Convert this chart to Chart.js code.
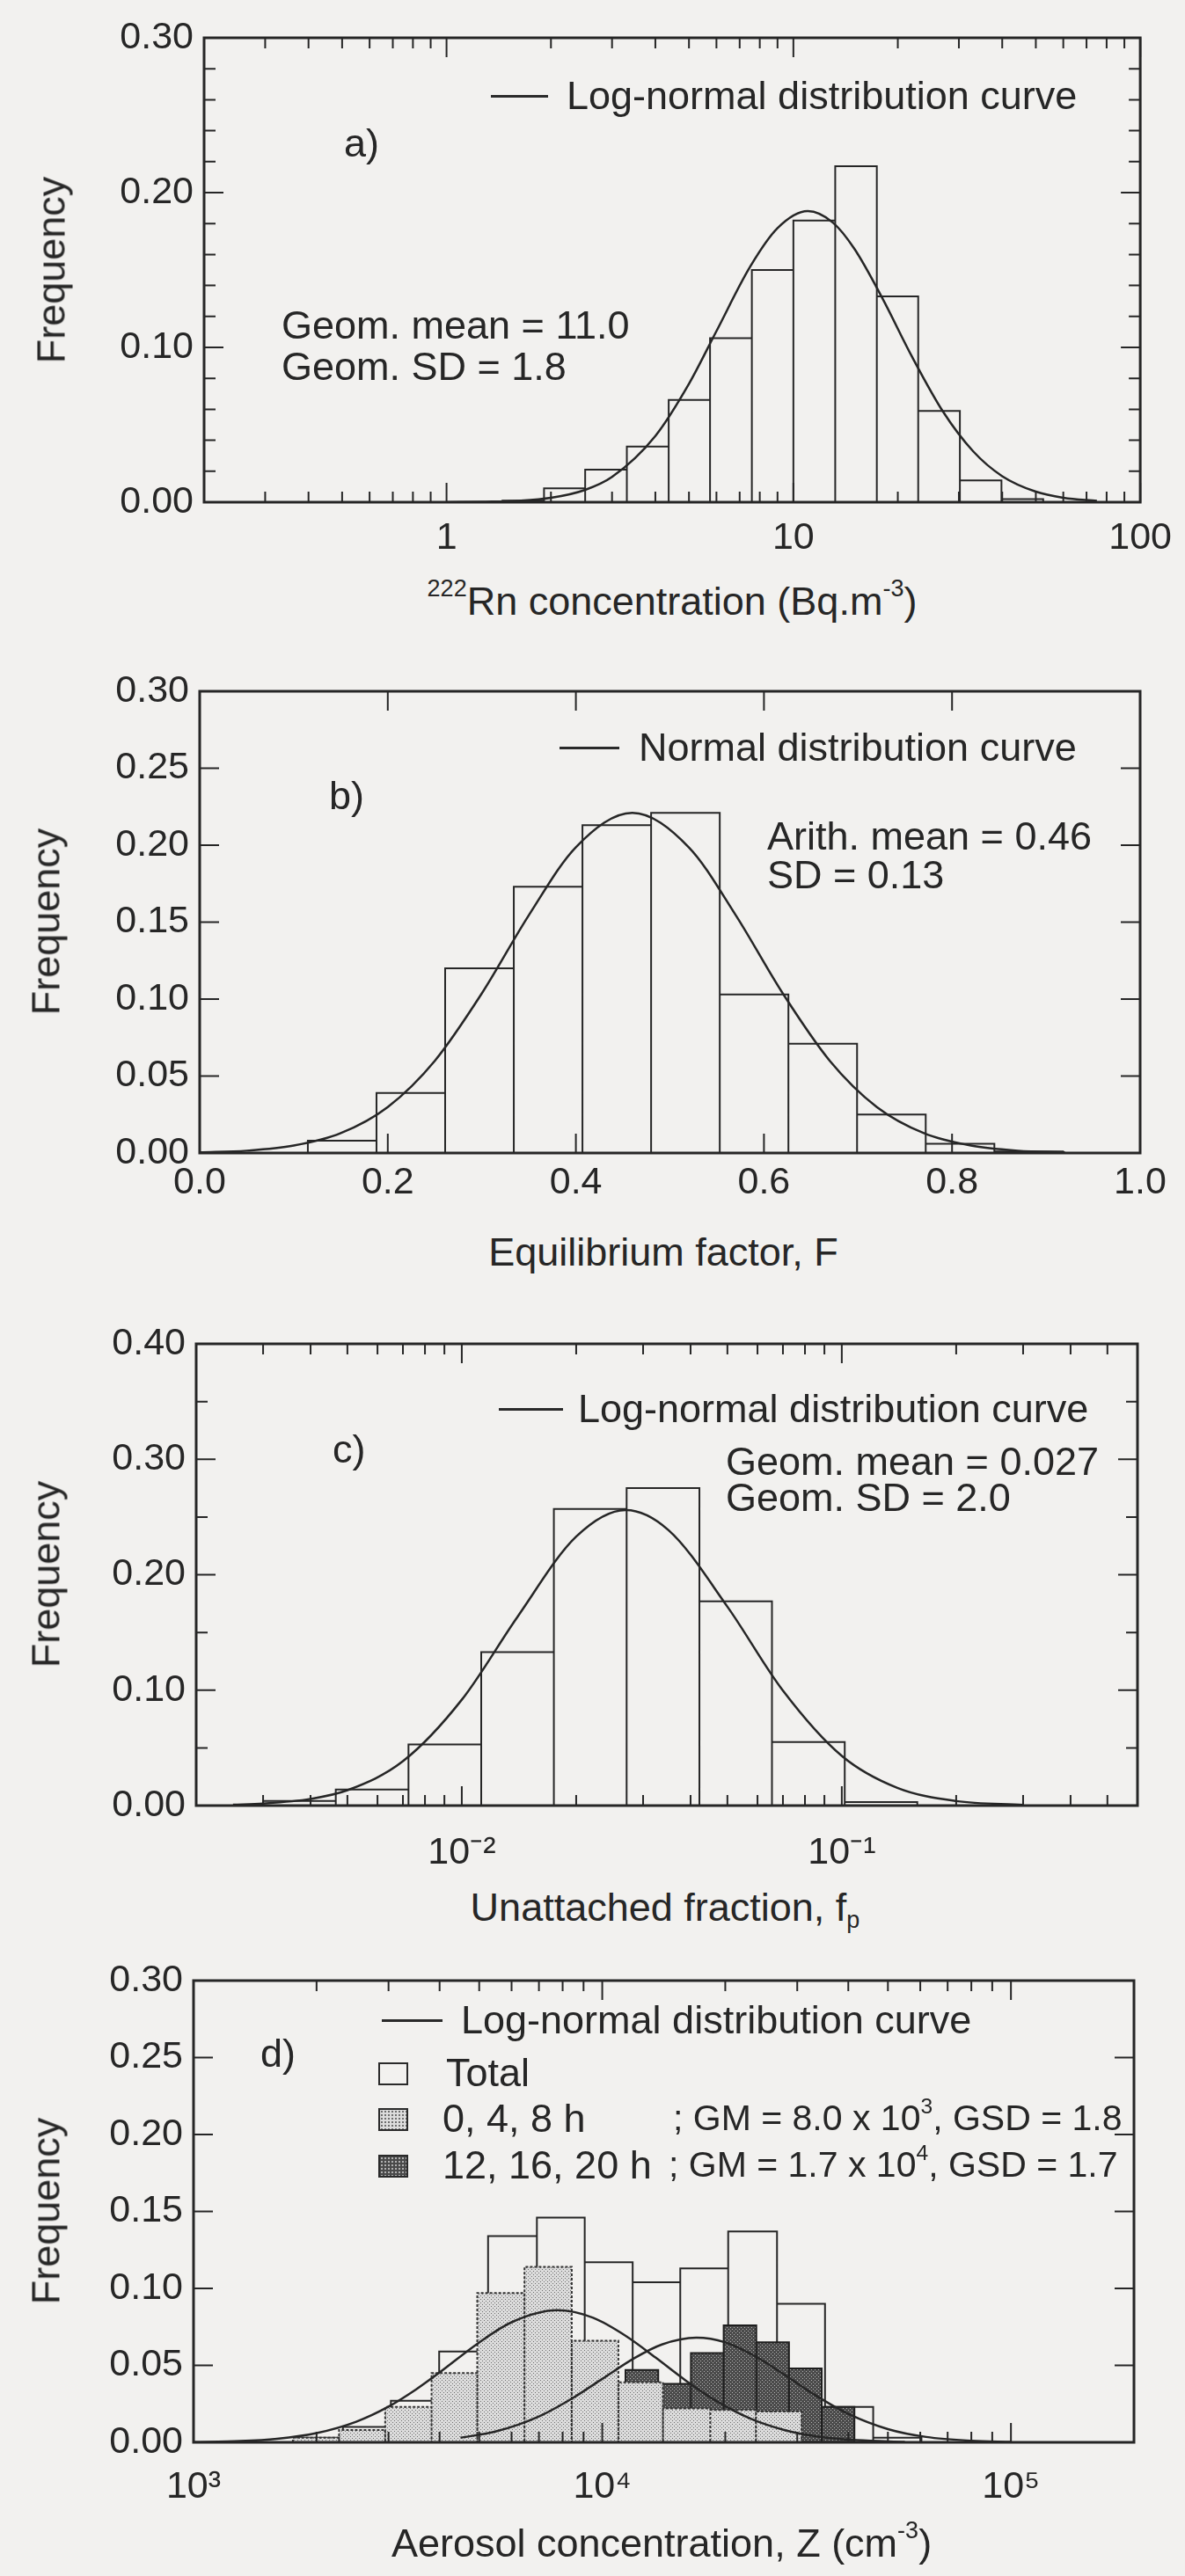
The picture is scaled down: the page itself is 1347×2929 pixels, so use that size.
<!DOCTYPE html>
<html>
<head>
<meta charset="utf-8">
<script src="https://cdn.jsdelivr.net/npm/chart.js@4.4.1/dist/chart.umd.min.js"></script>
<style>
  html, body { margin: 0; padding: 0; }
  body { width: 1347px; height: 2929px; position: relative; overflow: hidden; background: #f2f1ef;
         font-family: "Liberation Sans", Arial, Helvetica, sans-serif; color: #262626; }
  .panel { position: absolute; left: 0; width: 1347px; }
  .txt { position: absolute; white-space: nowrap; line-height: 1; font-size: 45px; }
  .txt sup { font-size: 0.6em; position: relative; top: -0.75em; vertical-align: baseline; }
  .txt sub { font-size: 0.6em; position: relative; top: 0.3em; vertical-align: baseline; }
  .ylab { transform: translate(-50%, -50%) rotate(-90deg); }
  .ctr { transform: translateX(-50%); }
  .key { position: absolute; height: 3px; background: #2a2a2a; }
  .sw { position: absolute; width: 34px; height: 26px; border: 2px solid #2a2a2a; box-sizing: border-box; }
  .light { background-color: #dcdcdc; background-image: radial-gradient(#6f6f6f 30%, transparent 45%); background-size: 4px 4px; }
  .dark { background-color: #4a4a4a; background-image: radial-gradient(#b0b0b0 30%, transparent 45%); background-size: 4px 4px; }
</style>
</head>
<body>
<script>
    // a) 222Rn concentration, log bins
    const aEdges = [1.45, 1.91, 2.51, 3.31, 4.37, 5.75, 7.59, 10.0, 13.2, 17.4, 22.9, 30.2, 39.8, 52.5];
    const aFreq = [0.001, 0.009, 0.021, 0.036, 0.066, 0.106, 0.150, 0.182, 0.217, 0.133, 0.059, 0.014, 0.002];
    const aCurveX = [1.0, 1.3, 1.6, 2.0, 2.5, 3.0, 4.0, 5.0, 6.0, 7.5, 9.0, 11.0, 13.0, 15.0, 18.0, 22.0, 27.0, 33.0, 40.0, 50.0, 60.0, 75.0];
    const aCurveY = [0.0000, 0.0003, 0.0009, 0.0028, 0.0078, 0.0163, 0.0428, 0.0765, 0.1105, 0.152, 0.177, 0.188, 0.1806, 0.1636, 0.1323, 0.0938, 0.0585, 0.0328, 0.0168, 0.0068, 0.0029, 0.0009];
    const aXTicks = [1, 10, 100];
    const aXLabels = ['1', '10', '100'];
    const aXMinor = [0.3, 0.4, 0.5, 0.6, 0.7, 0.8, 0.9, 2, 3, 4, 5, 6, 7, 8, 9, 20, 30, 40, 50, 60, 70, 80, 90];
    const aYTicks = [0, 0.1, 0.2, 0.3];
    const aYMinor = [0.02, 0.04, 0.06, 0.08, 0.12, 0.14, 0.16, 0.18, 0.22, 0.24, 0.26, 0.28];

    // b) equilibrium factor, linear bins
    const bEdges = [0.115, 0.188, 0.261, 0.334, 0.407, 0.480, 0.553, 0.626, 0.699, 0.772, 0.845, 0.918];
    const bFreq = [0.008, 0.039, 0.120, 0.173, 0.213, 0.221, 0.103, 0.071, 0.025, 0.006, 0.001];
    const bCurveX = [0.0, 0.05, 0.1, 0.15, 0.2, 0.25, 0.3, 0.35, 0.4, 0.46, 0.52, 0.57, 0.62, 0.67, 0.72, 0.77, 0.82, 0.87, 0.92];
    const bCurveY = [0.0004, 0.0015, 0.0048, 0.0129, 0.0299, 0.0599, 0.1037, 0.1545, 0.1987, 0.221, 0.1987, 0.1545, 0.1037, 0.0599, 0.0299, 0.0129, 0.0048, 0.0015, 0.0004];
    const bXTicks = [0, 0.2, 0.4, 0.6, 0.8, 1.0];
    const bXLabels = ['0.0', '0.2', '0.4', '0.6', '0.8', '1.0'];
    const bYTicks = [0, 0.05, 0.10, 0.15, 0.20, 0.25, 0.30];

    // c) unattached fraction, log bins
    const cEdges = [0.0030, 0.00466, 0.00724, 0.01125, 0.01747, 0.02715, 0.0422, 0.0655, 0.1018, 0.158];
    const cFreq = [0.004, 0.014, 0.053, 0.133, 0.257, 0.275, 0.177, 0.055, 0.003];
    const cCurveX = [0.0025, 0.003, 0.004, 0.005, 0.007, 0.01, 0.014, 0.02, 0.027, 0.035, 0.05, 0.07, 0.1, 0.14, 0.2, 0.3];
    const cCurveY = [0.0007, 0.0017, 0.0058, 0.0133, 0.0384, 0.0917, 0.1633, 0.233, 0.256, 0.2386, 0.1723, 0.0996, 0.043, 0.0153, 0.0039, 0.0006];
    const cXTicks = [0.01, 0.1];
    const cXLabels = ['10\u207B\u00B2', '10\u207B\u00B9'];
    const cXMinor = [0.003, 0.004, 0.005, 0.006, 0.007, 0.008, 0.009, 0.02, 0.03, 0.04, 0.05, 0.06, 0.07, 0.08, 0.09, 0.2, 0.3, 0.4, 0.5];
    const cYTicks = [0, 0.1, 0.2, 0.3, 0.4];
    const cYMinor = [0.05, 0.15, 0.25, 0.35];

    // d) aerosol concentration: total, 0-4-8 h, 12-16-20 h
    const dTotEdges = [1766, 2320, 3040, 3990, 5256, 6920, 9060, 11870, 15520, 20330, 26770, 35080, 46020, 60400];
    const dTotFreq = [0.003, 0.010, 0.027, 0.059, 0.134, 0.146, 0.117, 0.104, 0.113, 0.137, 0.090, 0.023, 0.003];
    const dDayEdges = [1750, 2270, 2944, 3823, 4946, 6453, 8421, 10950, 14080, 18380, 23770, 30740];
    const dDayFreq = [0.003, 0.008, 0.023, 0.045, 0.097, 0.114, 0.066, 0.039, 0.022, 0.021, 0.020];
    const dEveEdges = [11400, 13710, 16480, 19820, 23820, 28640, 34430, 41400];
    const dEveFreq = [0.047, 0.038, 0.058, 0.076, 0.065, 0.048, 0.023];
    const dCurve1X = [1000, 1300, 1600, 2000, 2500, 3000, 3500, 4000, 5000, 6000, 7760, 9500, 11500, 13500, 16000, 19000, 23000, 28000, 34000, 42000, 55000];
    const dCurve1Y = [0.0002, 0.0008, 0.0023, 0.006, 0.0134, 0.0232, 0.0343, 0.0454, 0.0649, 0.078, 0.0858, 0.0809, 0.0686, 0.0551, 0.0402, 0.0269, 0.0155, 0.0079, 0.0036, 0.0014, 0.0003];
    const dCurve2X = [4500, 5500, 7000, 8500, 10000, 12000, 14000, 17000, 20000, 24000, 28000, 33000, 40000, 50000, 62000, 80000, 100000];
    const dCurve2Y = [0.003, 0.0071, 0.0168, 0.029, 0.0412, 0.0548, 0.0636, 0.068, 0.0649, 0.055, 0.0437, 0.0311, 0.0185, 0.0086, 0.0035, 0.001, 0.0003];
    const dXTicks = [1e3, 1e4, 1e5];
    const dXLabels = ['10\u00B3', '10\u2074', '10\u2075'];
    const dXMinor = [2e3, 3e3, 4e3, 5e3, 6e3, 7e3, 8e3, 9e3, 2e4, 3e4, 4e4, 5e4, 6e4, 7e4, 8e4, 9e4];
    const dYTicks = [0, 0.05, 0.10, 0.15, 0.20, 0.25, 0.30];

    const INK = '#262626';
    const TICK_FS = 43;
    Chart.defaults.font.family = '"Liberation Sans", Arial, Helvetica, sans-serif';
    Chart.defaults.color = INK;

    function histPoints(edges, freq) {
        const pts = [];
        freq.forEach((f, i) => {
            pts.push({x: edges[i], y: 0}, {x: edges[i], y: f}, {x: edges[i + 1], y: f}, {x: edges[i + 1], y: 0});
        });
        return pts;
    }

    function curvePoints(xs, ys) {
        return xs.map((x, i) => ({x: x, y: ys[i]}));
    }

    function stipple(base, dot) {
        const c = document.createElement('canvas');
        c.width = 4; c.height = 4;
        const g = c.getContext('2d');
        g.fillStyle = base; g.fillRect(0, 0, 4, 4);
        g.fillStyle = dot; g.fillRect(0, 0, 1, 1); g.fillRect(2, 2, 1, 1);
        return g.createPattern(c, 'repeat');
    }

    function curveSet(xs, ys) {
        return {data: curvePoints(xs, ys), showLine: true, borderColor: INK, borderWidth: 2.5,
                pointRadius: 0, fill: false, cubicInterpolationMode: 'monotone'};
    }

    function histSet(edges, freq, extra) {
        return Object.assign({data: histPoints(edges, freq), showLine: true, borderColor: INK, borderWidth: 2,
                pointRadius: 0, fill: false, tension: 0, borderJoinStyle: 'miter'}, extra || {});
    }

    // box + inward tick marks on all four sides
    function framePlugin(f) {
        return {
            id: 'frame',
            afterDatasetsDraw(chart) {
                const {ctx, chartArea: a, scales: {x, y}} = chart;
                ctx.save();
                ctx.strokeStyle = INK;
                ctx.lineWidth = 3;
                ctx.strokeRect(a.left, a.top, a.right - a.left, a.bottom - a.top);
                ctx.lineWidth = 2;
                ctx.beginPath();
                [[f.xMajor, 22], [f.xMinor || [], 12]].forEach(([vals, len]) => vals.forEach(v => {
                    const px = x.getPixelForValue(v);
                    ctx.moveTo(px, a.bottom); ctx.lineTo(px, a.bottom - len);
                    ctx.moveTo(px, a.top); ctx.lineTo(px, a.top + len);
                }));
                [[f.yMajor, 22], [f.yMinor || [], 13]].forEach(([vals, len]) => vals.forEach(v => {
                    const py = y.getPixelForValue(v);
                    ctx.moveTo(a.left, py); ctx.lineTo(a.left + len, py);
                    ctx.moveTo(a.right, py); ctx.lineTo(a.right - len, py);
                }));
                ctx.stroke();
                ctx.restore();
            }
        };
    }

    function makePanel(p) {
        const wrap = document.createElement('div');
        wrap.className = 'panel';
        wrap.style.top = p.top + 'px';
        wrap.style.height = p.height + 'px';
        const cv = document.createElement('canvas');
        wrap.appendChild(cv);
        document.body.appendChild(wrap);
        return new Chart(cv, {
            type: 'scatter',
            data: {datasets: p.datasets},
            options: {
                responsive: true,
                maintainAspectRatio: false,
                animation: false,
                events: [],
                layout: {padding: {left: 0, right: 1347 - p.box.r, top: p.box.t - p.top, bottom: 0}},
                plugins: {legend: {display: false}, tooltip: {enabled: false}},
                scales: {
                    x: {
                        type: p.xType, min: p.xMin, max: p.xMax,
                        grid: {display: false, drawTicks: false}, border: {display: false},
                        ticks: {autoSkip: false, maxRotation: 0, minRotation: 0, padding: p.xPad,
                                color: INK, font: {size: TICK_FS}, callback: (v, i) => p.xLabels[i]},
                        afterBuildTicks: s => { s.ticks = p.xTicks.map(v => ({value: v})); },
                        afterFit: s => { s.height = p.top + p.height - p.box.b; }
                    },
                    y: {
                        type: 'linear', min: 0, max: p.yMax,
                        grid: {display: false, drawTicks: false}, border: {display: false},
                        ticks: {padding: 12, color: INK, font: {size: TICK_FS}, callback: v => v.toFixed(2)},
                        afterBuildTicks: s => { s.ticks = p.yTicks.map(v => ({value: v})); },
                        afterFit: s => { s.width = p.box.l; }
                    }
                }
            },
            plugins: [framePlugin(p.frame)]
        });
    }

    function text(html, x, cy, opts) {
        opts = opts || {};
        const d = document.createElement('div');
        const fs = opts.size || 45;
        d.className = 'txt' + (opts.cls ? ' ' + opts.cls : '');
        d.style.fontSize = fs + 'px';
        d.style.left = x + 'px';
        d.style.top = (opts.cls === 'ylab' ? cy : cy - 0.52 * fs) + 'px';
        d.innerHTML = html;
        document.body.appendChild(d);
    }

    function key(x1, x2, y) {
        const d = document.createElement('div');
        d.className = 'key';
        d.style.left = x1 + 'px'; d.style.width = (x2 - x1) + 'px'; d.style.top = (y - 1) + 'px';
        document.body.appendChild(d);
    }

    function swatch(cls, x, y) {
        const d = document.createElement('div');
        d.className = 'sw ' + cls;
        d.style.left = x + 'px'; d.style.top = y + 'px';
        document.body.appendChild(d);
    }

    // panel a
    makePanel({
        top: 0, height: 640, box: {l: 232, r: 1301, t: 43, b: 571},
        xType: 'logarithmic', xMin: 0.2, xMax: 100, xTicks: aXTicks, xLabels: aXLabels, xPad: 15,
        yMax: 0.3, yTicks: aYTicks,
        frame: {xMajor: aXTicks, xMinor: aXMinor, yMajor: aYTicks, yMinor: aYMinor},
        datasets: [curveSet(aCurveX, aCurveY), histSet(aEdges, aFreq)]
    });
    key(558, 623, 109);
    text('Log-normal distribution curve', 644, 109);
    text('a)', 391, 163);
    text('Geom. mean = 11.0', 320, 370);
    text('Geom. SD = 1.8', 320, 417);
    text('Frequency', 58, 307, {cls: 'ylab'});
    text('<sup>222</sup>Rn concentration (Bq.m<sup>-3</sup>)', 764, 684, {cls: 'ctr'});

    // panel b
    makePanel({
        top: 740, height: 650, box: {l: 227, r: 1296, t: 786, b: 1311},
        xType: 'linear', xMin: 0, xMax: 1, xTicks: bXTicks, xLabels: bXLabels, xPad: 8,
        yMax: 0.3, yTicks: bYTicks,
        frame: {xMajor: bXTicks, yMajor: bYTicks},
        datasets: [curveSet(bCurveX, bCurveY), histSet(bEdges, bFreq)]
    });
    key(636, 704, 850);
    text('Normal distribution curve', 726, 850);
    text('b)', 374, 905);
    text('Arith. mean = 0.46', 872, 951);
    text('SD = 0.13', 872, 995);
    text('Frequency', 52, 1048, {cls: 'ylab'});
    text('Equilibrium factor, F', 754, 1424, {cls: 'ctr'});

    // panel c
    makePanel({
        top: 1480, height: 660, box: {l: 223, r: 1293, t: 1528, b: 2053},
        xType: 'logarithmic', xMin: 0.002, xMax: 0.6, xTicks: cXTicks, xLabels: cXLabels, xPad: 28,
        yMax: 0.4, yTicks: cYTicks,
        frame: {xMajor: cXTicks, xMinor: cXMinor, yMajor: cYTicks, yMinor: cYMinor},
        datasets: [curveSet(cCurveX, cCurveY), histSet(cEdges, cFreq)]
    });
    key(567, 640, 1602);
    text('Log-normal distribution curve', 657, 1602);
    text('c)', 378, 1648);
    text('Geom. mean = 0.027', 825, 1662);
    text('Geom. SD = 2.0', 825, 1703);
    text('Frequency', 52, 1790, {cls: 'ylab'});
    text('Unattached fraction, f<sub>p</sub>', 756, 2169, {cls: 'ctr'});

    // panel d
    const lightFill = stipple('#dcdcdc', '#6f6f6f');
    const darkFill = stipple('#4a4a4a', '#b4b4b4');
    makePanel({
        top: 2200, height: 670, box: {l: 220, r: 1289, t: 2252, b: 2777},
        xType: 'logarithmic', xMin: 1e3, xMax: 2e5, xTicks: dXTicks, xLabels: dXLabels, xPad: 25,
        yMax: 0.3, yTicks: dYTicks,
        frame: {xMajor: dXTicks, xMinor: dXMinor, yMajor: dYTicks},
        datasets: [
            curveSet(dCurve1X, dCurve1Y),
            curveSet(dCurve2X, dCurve2Y),
            histSet(dDayEdges, dDayFreq, {fill: 'origin', backgroundColor: lightFill, borderDash: [3, 2], borderColor: '#333'}),
            histSet(dEveEdges, dEveFreq, {fill: 'origin', backgroundColor: darkFill, borderColor: '#1e1e1e'}),
            histSet(dTotEdges, dTotFreq)
        ]
    });
    key(434, 503, 2297);
    text('Log-normal distribution curve', 524, 2297);
    text('d)', 296, 2335);
    swatch('', 430, 2345);
    text('Total', 507, 2357);
    swatch('light', 430, 2397);
    text('0, 4, 8 h', 503, 2409);
    text('; GM = 8.0 x 10<sup>3</sup>, GSD = 1.8', 765, 2409, {size: 41});
    swatch('dark', 430, 2450);
    text('12, 16, 20 h', 503, 2462);
    text('; GM = 1.7 x 10<sup>4</sup>, GSD = 1.7', 760, 2462, {size: 41});
    text('Frequency', 52, 2514, {cls: 'ylab'});
    text('Aerosol concentration, Z (cm<sup>-3</sup>)', 752, 2892, {cls: 'ctr'});
</script>
</body>
</html>
